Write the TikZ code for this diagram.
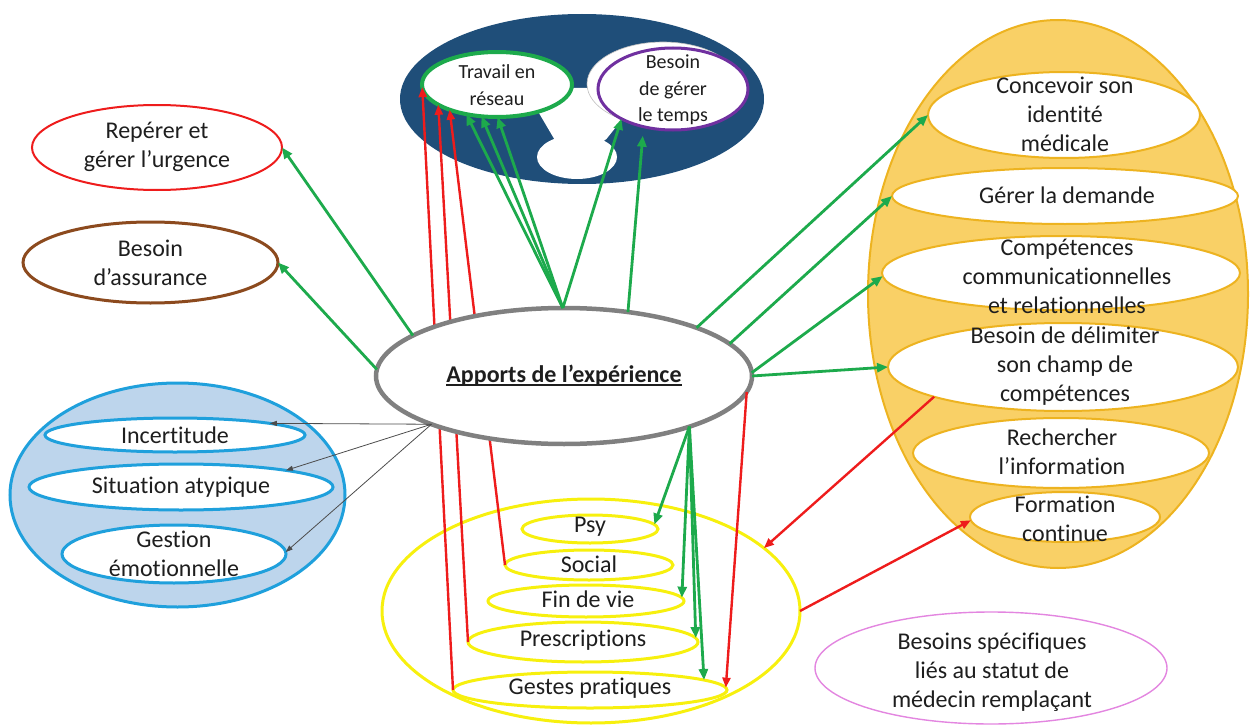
\documentclass[tikz,border=0pt]{standalone}
\usepackage{fontspec}
\setmainfont{Carlito}[Ligatures={NoCommon}]
\usetikzlibrary{shapes.geometric,arrows.meta}

\definecolor{navy}{HTML}{1F4E79}
\definecolor{agreen}{HTML}{1DAA4C}
\definecolor{ared}{HTML}{EE1C1C}
\definecolor{violetb}{HTML}{7030A0}
\definecolor{brownb}{HTML}{8C4A1E}
\definecolor{skyb}{HTML}{1FA0DC}
\definecolor{skyf}{HTML}{BDD5EC}
\definecolor{greyb}{HTML}{808080}
\definecolor{yellowb}{HTML}{F7F00E}
\definecolor{goldf}{HTML}{F9D066}
\definecolor{goldb}{HTML}{EDB320}
\definecolor{pinkb}{HTML}{E386E0}
\definecolor{txt}{HTML}{1E1E1E}

% underline set close to the baseline
\newcommand\apul[1]{\setbox0\hbox{#1}\rlap{\rule[-3pt]{\wd0}{1.6pt}}\box0}

\tikzset{
  oval/.style={ellipse, inner sep=0pt, outer sep=0pt},
  lbl/.style={font=\fontsize{24}{29}\selectfont, text=txt, align=center, inner sep=0pt},
  lblsm/.style={font=\fontsize{20}{26.5}\selectfont, text=txt, align=center, inner sep=0pt},
  garrow/.style={draw=agreen, line width=2.8pt, -{Triangle[length=11pt,width=9pt]}},
  rarrow/.style={draw=ared, line width=2.4pt, -{Triangle[length=10pt,width=8pt]}},
  karrow/.style={draw=black!70, line width=0.8pt, -{Triangle[length=7pt,width=5pt]}},
}

\begin{document}
\begin{tikzpicture}[x=1pt, y=-1pt]
\useasboundingbox (0,0) rectangle (1251,725);

% ---- network group (top) ----
\node[oval, fill=navy, minimum width=364pt, minimum height=170pt] (netbg) at (582,99) {};
\fill[white, rounded corners=4pt] (552,88) -- (594,88) -- (624,117) -- (604,142) -- (556,142) -- (536,108) -- cycle;
\node[oval, fill=white, draw=black!25, line width=0.6pt, minimum width=152pt, minimum height=84pt] (timebg) at (663,84) {};
\node[oval, fill=white, minimum width=80pt, minimum height=44pt] (netlow) at (577,157) {};
\node[oval, fill=white, draw=agreen, line width=4pt, minimum width=150pt, minimum height=65pt] (reseau) at (497,84.5) {};
\node[oval, fill=white, draw=violetb, line width=3pt, minimum width=150pt, minimum height=82pt] (temps) at (673,89) {};

% ---- uncertainty group (left) ----
\node[oval, fill=skyf, draw=skyb, line width=3pt, minimum width=335pt, minimum height=224pt] (unsure) at (177.5,495) {};
\node[oval, fill=white, draw=skyb, line width=3pt, minimum width=260pt, minimum height=34pt] (incert) at (175,435) {};
\node[oval, fill=white, draw=skyb, line width=3pt, minimum width=304pt, minimum height=46pt] (situ) at (181,487) {};
\node[oval, fill=white, draw=skyb, line width=3pt, minimum width=224pt, minimum height=58pt] (gestion) at (174,554) {};

% ---- professional skills group (right) ----
\node[oval, fill=goldf, draw=goldb, line width=2pt, minimum width=380pt, minimum height=548pt] (skills) at (1058,294) {};
\node[oval, fill=white, draw=goldb, line width=2pt, minimum width=272pt, minimum height=86pt] (identite) at (1064,115) {};
\node[oval, fill=white, draw=goldb, line width=2pt, minimum width=346pt, minimum height=56pt] (demande) at (1065,196) {};
\node[oval, fill=white, draw=goldb, line width=2pt, minimum width=358pt, minimum height=74pt] (comm) at (1061,273) {};
\node[oval, fill=white, draw=goldb, line width=2pt, minimum width=350pt, minimum height=88pt] (champ) at (1063,367) {};
\node[oval, fill=white, draw=goldb, line width=2pt, minimum width=296pt, minimum height=70pt] (info) at (1061,453) {};
\node[oval, fill=white, draw=goldb, line width=2pt, minimum width=190pt, minimum height=50pt] (formation) at (1065,517) {};

% ---- clinical domains group (bottom) ----
\node[oval, draw=yellowb, line width=3pt, minimum width=418pt, minimum height=224pt] (domaines) at (591,611) {};
\node[oval, draw=yellowb, line width=3pt, minimum width=136pt, minimum height=28pt] (psy) at (590,529) {};
\node[oval, draw=yellowb, line width=3pt, minimum width=168pt, minimum height=30pt] (social) at (589,565) {};
\node[oval, draw=yellowb, line width=3pt, minimum width=196pt, minimum height=32pt] (finvie) at (586,601) {};
\node[oval, draw=yellowb, line width=3pt, minimum width=230pt, minimum height=40pt] (presc) at (583,642) {};
\node[oval, draw=yellowb, line width=3pt, minimum width=274pt, minimum height=36pt] (gestes) at (590,690) {};

% ---- single needs ----
\node[oval, fill=white, draw=ared, line width=2pt, minimum width=250pt, minimum height=85pt] (urgence) at (157,147.5) {};
\node[oval, fill=white, draw=brownb, line width=3pt, minimum width=255pt, minimum height=81pt] (assurance) at (150.5,262.5) {};
\node[oval, fill=white, draw=pinkb, line width=1.4pt, minimum width=352pt, minimum height=112pt] (statut) at (991,668) {};

% ---- red links passing behind the central node ----
\draw[rarrow] (gestes.west) -- (reseau.182.7);
\draw[rarrow] (presc.west) -- (reseau.199);
\draw[rarrow] (social.west) -- (reseau.208.7);

% ---- central node ----
\node[oval, fill=white, draw=greyb, line width=4.5pt, minimum width=376pt, minimum height=136pt] (apports) at (564,376) {};

% ---- green links ----
\draw[garrow] (apports.165.3) -- (urgence.0);
\draw[garrow] (apports.178) -- (assurance.0);
\draw[garrow] (apports.91) -- (reseau.224);
\draw[garrow] (apports.91) -- (reseau.244);
\draw[garrow] (apports.91) -- (reseau.271.5);
\draw[garrow] (apports.91) -- (temps.210.3);
\draw[garrow, shorten >=9pt] (apports.45) -- (temps.232.7);
\draw[garrow] (apports.20.2) -- (identite.180);
\draw[garrow] (apports.11.2) -- (demande.180);
\draw[garrow] (apports.1.5) -- (comm.181.3);
\draw[garrow] (apports.0) -- (champ.180);
\draw[garrow] (apports.338) -- (psy.4);
\draw[garrow] (apports.338) -- (finvie.2);
\draw[garrow] (apports.338) -- (presc.2);
\draw[garrow] (apports.338) -- (gestes.5);

% ---- red links ----
\draw[rarrow] (apports.355.7) -- (gestes.1);
\draw[rarrow] (champ.193) -- (domaines.20.5);
\draw[rarrow] (domaines.0) -- (formation.182);

% ---- grey links ----
\draw[karrow] (apports.200) -- (incert.7);
\draw[karrow] (apports.200) -- (situ.9);
\draw[karrow] (apports.200) -- (gestion.1);

% ---- labels ----
\node[lblsm] (t-reseau) at (497,85) {Travail en\\réseau};
\node[lblsm] (t-temps) at (673,90) {Besoin\\de gérer\\le temps};
\node[lbl] (t-urgence) at (157,147) {Repérer et\\gérer l’urgence};
\node[lbl] (t-assurance) at (150.5,263) {Besoin\\d’assurance};
\node[lbl] (t-incert) at (175,435) {Incertitude};
\node[lbl] (t-situ) at (181,487) {Situation atypique};
\node[lbl] (t-gestion) at (174,554) {Gestion\\émotionnelle};
\node[lbl, font=\fontsize{24}{29}\selectfont\bfseries] (t-apports) at (564,376) {\apul{Apports de l’expérience}};
\node[lbl] (t-psy) at (590,527) {Psy};
\node[lbl] (t-social) at (589,564) {Social};
\node[lbl] (t-finvie) at (588,599) {Fin de vie};
\node[lbl] (t-presc) at (583,640) {Prescriptions};
\node[lbl] (t-gestes) at (590,688) {Gestes pratiques};
\node[lbl] (t-identite) at (1065,114) {Concevoir son\\identité\\médicale};
\node[lbl] (t-demande) at (1067,195) {Gérer la demande};
\node[lbl] (t-comm) at (1067,276) {Compétences\\communicationnelles\\et relationnelles};
\node[lbl] (t-champ) at (1065,366) {Besoin de délimiter\\son champ de\\compétences};
\node[lbl] (t-info) at (1062,452) {Rechercher\\l’information};
\node[lbl] (t-formation) at (1065,519) {Formation\\continue};
\node[lbl] (t-statut) at (992,672) {Besoins spécifiques\\liés au statut de\\médecin remplaçant};
\end{tikzpicture}
\end{document}
